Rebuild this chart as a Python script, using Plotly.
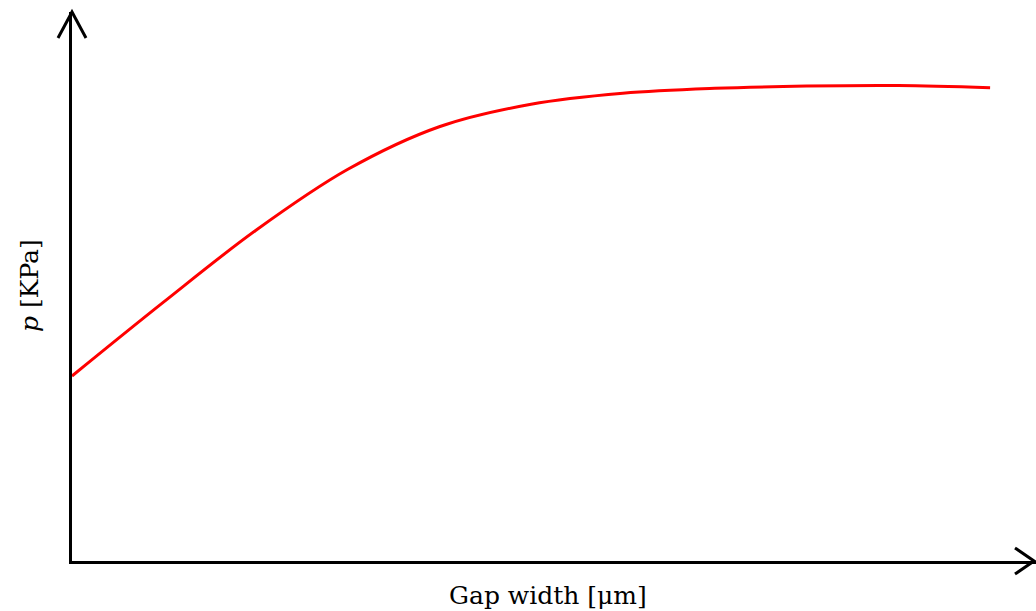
import plotly.graph_objects as go

# Data (arbitrary units)
gap_width = [0, 10, 20, 30, 40, 50, 60, 70, 80, 90, 100]
pressure = [33.7, 47.2, 60.2, 71.3, 79.1, 83.2, 85.2, 86.1, 86.5, 86.6, 86.2]

x_label = "Gap width [μm]"
y_label = "<i>p</i> [KPa]"

W, H = 1036, 611
ml, mr, mt, mb = 72, 0, 12, 50
pw, ph = W - ml - mr, H - mt - mb

def px2paper(px, py):
    return (px - ml) / pw, (H - mb - py) / ph

fig = go.Figure()
fig.add_trace(go.Scatter(x=gap_width, y=pressure, mode="lines",
                         line=dict(color="#ff0000", width=3, shape="spline", smoothing=1.0),
                         hoverinfo="skip", showlegend=False))

font_family = "DejaVu Serif"

# Arrow heads (open chevrons)
def chevron(p1, tip, p2):
    a = px2paper(*p1); t = px2paper(*tip); b = px2paper(*p2)
    return dict(type="path", xref="paper", yref="paper",
                path=f"M {a[0]} {a[1]} L {t[0]} {t[1]} L {b[0]} {b[1]}",
                line=dict(color="black", width=3))

shapes = [
    chevron((58, 38), (72, 12), (86, 38)),
    chevron((1015, 548), (1034, 561), (1015, 574)),
]

ax, ay = px2paper(548, 595)
bx, by = px2paper(29, 286)
annotations = [
    dict(text=x_label, x=ax, y=ay, xref="paper", yref="paper", showarrow=False,
         xanchor="center", yanchor="middle", font=dict(family=font_family, size=25, color="black")),
    dict(text=y_label, x=bx, y=by, xref="paper", yref="paper", showarrow=False,
         textangle=-90, xanchor="center", yanchor="middle",
         font=dict(family=font_family, size=25, color="black")),
]

fig.update_layout(
    width=W, height=H,
    margin=dict(l=ml, r=mr, t=mt, b=mb),
    paper_bgcolor="white", plot_bgcolor="white",
    xaxis=dict(range=[0, 105], showgrid=False, zeroline=False, showticklabels=False,
               ticks="", showline=True, linecolor="black", linewidth=3),
    yaxis=dict(range=[0, 100], showgrid=False, zeroline=False, showticklabels=False,
               ticks="", showline=True, linecolor="black", linewidth=3),
    shapes=shapes, annotations=annotations,
)

fig.write_html("out.html", config={"displayModeBar": False},
               post_script="document.body.style.margin='0';document.body.style.overflow='hidden';")
